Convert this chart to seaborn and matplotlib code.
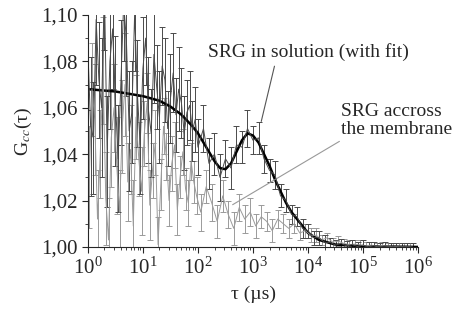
import numpy as np
import matplotlib
matplotlib.use("Agg")
import matplotlib.pyplot as plt
import seaborn as sns
from matplotlib.ticker import FuncFormatter, MultipleLocator, LogLocator, NullFormatter

# lag time exponents (log10 of tau in microseconds), denser at short lags
exp_sol = np.concatenate([np.linspace(0.0, 1.95, 40), np.linspace(2.0, 5.9, 40)])
exp_mem = np.concatenate([np.linspace(0.025, 1.975, 40), np.linspace(2.05, 5.85, 39)])

# SRG in solution (darker curve)
g_sol = [1.085, 1.052, 1.047, 1.098, 1.072, 1.060, 1.112, 1.041, 1.080, 1.094,
         1.063, 1.038, 1.071, 1.105, 1.089, 1.050, 1.058, 1.101, 1.066, 1.044,
         1.077, 1.090, 1.059, 1.049, 1.083, 1.069, 1.056, 1.078, 1.072, 1.051,
         1.064, 1.075, 1.057, 1.068, 1.062, 1.049, 1.058, 1.061, 1.050, 1.055,
         1.043, 1.051, 1.036, 1.040, 1.030, 1.038, 1.034, 1.044, 1.043, 1.051,
         1.046, 1.047, 1.038, 1.033, 1.031, 1.022, 1.020, 1.014, 1.013, 1.008,
         1.007, 1.004, 1.004, 1.002, 1.002, 1.0008, 1.0015, 1.0005, 1.001, 1.0002,
         1.0008, 1.0000, 1.0006, 1.0001, 1.0005, 1.0000, 1.0004, 1.0001, 1.0003, 1.0000]
err_sol = [0.026, 0.030, 0.024, 0.028, 0.025, 0.030, 0.027, 0.024, 0.029, 0.026,
           0.028, 0.023, 0.027, 0.025, 0.024, 0.026, 0.022, 0.025, 0.023, 0.021,
           0.022, 0.020, 0.023, 0.019, 0.021, 0.018, 0.020, 0.017, 0.018, 0.016,
           0.019, 0.017, 0.016, 0.018, 0.015, 0.016, 0.014, 0.015, 0.013, 0.014,
           0.012, 0.010, 0.011, 0.009, 0.010, 0.008, 0.009, 0.008, 0.007, 0.008,
           0.006, 0.007, 0.006, 0.005, 0.006, 0.005, 0.005, 0.004, 0.004, 0.004,
           0.003, 0.003, 0.003, 0.003, 0.002, 0.002, 0.002, 0.002, 0.002, 0.002,
           0.002, 0.002, 0.0015, 0.0015, 0.0015, 0.0015, 0.0015, 0.0015, 0.0015, 0.0015]

# SRG across the membrane (lighter curve)
g_mem = [1.030, 1.068, 1.055, 1.012, 1.040, 1.076, 1.021, 1.003, 1.047, 1.060,
         1.035, 1.015, 1.052, 1.070, 1.028, 1.042, 1.009, 1.056, 1.038, 1.024,
         1.049, 1.062, 1.018, 1.033, 1.045, 1.001, 1.027, 1.052, 1.039, 1.020,
         1.036, 1.044, 1.016, 1.030, 1.041, 1.025, 1.019, 1.037, 1.028, 1.022,
         1.015, 1.026, 1.019, 1.011, 1.022, 1.014, 1.008, 1.017, 1.012, 1.015,
         1.009, 1.013, 1.011, 1.007, 1.012, 1.010, 1.008, 1.010, 1.006, 1.007,
         1.005, 1.005, 1.003, 1.004, 1.002, 1.0025, 1.0015, 1.001, 1.0012, 1.0008,
         1.0005, 1.0008, 1.0003, 1.0006, 1.0004, 1.0002, 1.0003, 1.0001, 1.0000]
err_mem = [0.022, 0.020, 0.024, 0.021, 0.019, 0.023, 0.020, 0.018, 0.021, 0.019,
           0.021, 0.018, 0.020, 0.022, 0.017, 0.019, 0.020, 0.018, 0.016, 0.019,
           0.014, 0.013, 0.015, 0.012, 0.014, 0.012, 0.011, 0.012, 0.010, 0.011,
           0.012, 0.010, 0.011, 0.009, 0.010, 0.009, 0.010, 0.008, 0.009, 0.008,
           0.008, 0.007, 0.008, 0.007, 0.007, 0.006, 0.007, 0.006, 0.006, 0.006,
           0.005, 0.005, 0.004, 0.005, 0.004, 0.004, 0.004, 0.004, 0.003, 0.003,
           0.003, 0.003, 0.002, 0.002, 0.002, 0.002, 0.002, 0.002, 0.002, 0.002,
           0.0015, 0.0015, 0.0015, 0.0015, 0.0015, 0.0015, 0.0015, 0.0015, 0.0015]

# fit to SRG in solution
exp_fit = [0.0, 0.5, 1.0, 1.3, 1.5, 1.7, 1.8, 1.9, 2.0, 2.1, 2.2, 2.3, 2.4, 2.5,
           2.6, 2.7, 2.8, 2.9, 3.0, 3.1, 3.2, 3.3, 3.4, 3.5, 3.6, 3.7, 3.8,
           3.9, 4.0, 4.2, 4.5, 5.0, 6.0]
g_fit = [1.068, 1.067, 1.065, 1.063, 1.0605, 1.057, 1.0545, 1.052, 1.049, 1.045,
         1.041, 1.037, 1.034, 1.0335, 1.036, 1.041, 1.046, 1.049, 1.048, 1.045,
         1.040, 1.035, 1.029, 1.024, 1.019, 1.015, 1.012, 1.009, 1.006, 1.003,
         1.001, 1.0003, 1.000]

sns.set_style("ticks")
plt.rcParams['font.family'] = ['Liberation Serif', 'DejaVu Serif']
plt.rcParams['mathtext.fontset'] = 'stix'
plt.rcParams['font.size'] = 14

fig = plt.figure(figsize=(4.53, 3.11), dpi=100)
ax = fig.add_axes([0.194, 0.206, 0.729, 0.746])

tau_mem = 10 ** exp_mem
tau_sol = 10 ** exp_sol
ax.errorbar(tau_mem, g_mem, yerr=err_mem, color='#9a9a9a', lw=0.7,
            elinewidth=0.7, capsize=2.5, capthick=0.7)
ax.errorbar(tau_sol, g_sol, yerr=err_sol, color='#4a4a4a', lw=0.7,
            elinewidth=0.7, capsize=2.5, capthick=0.7)
sns.lineplot(x=10 ** np.array(exp_fit), y=g_fit, color='black', lw=1.8, ax=ax)

ax.set_xscale('log')
ax.set_xlim(1, 1e6)
ax.set_ylim(1.0, 1.10)
ax.yaxis.set_major_locator(MultipleLocator(0.02))
ax.yaxis.set_minor_locator(MultipleLocator(0.01))
ax.yaxis.set_major_formatter(FuncFormatter(lambda v, p: f"{v:.2f}".replace('.', ',')))
ax.xaxis.set_major_locator(LogLocator(base=10, numticks=10))
ax.xaxis.set_minor_locator(LogLocator(base=10, subs=np.arange(2, 10), numticks=20))
ax.xaxis.set_minor_formatter(NullFormatter())
ax.tick_params(direction='out', length=4, width=0.8, labelsize=15)
ax.tick_params(which='minor', direction='out', length=2, width=0.6)
sns.despine(ax=ax)

ax.set_xlabel("τ (µs)", fontsize=14, labelpad=5)
ax.set_ylabel("G$_{cc}$(τ)", fontsize=14, labelpad=5)

# annotations
ax.plot([10 ** 3.39, 10 ** 3.15], [1.0779, 1.0541], color='#555555', lw=0.8)
ax.text(10 ** 4.0, 1.084, "SRG in solution (with fit)", ha='center', va='center', fontsize=14)
ax.plot([10 ** 4.57, 10 ** 2.63], [1.0455, 1.0182], color='#999999', lw=0.8)
ax.text(10 ** 4.6, 1.0545, "SRG accross\nthe membrane", ha='left', va='center',
        fontsize=14, linespacing=1.1)

fig.savefig("out.png", dpi=100)
